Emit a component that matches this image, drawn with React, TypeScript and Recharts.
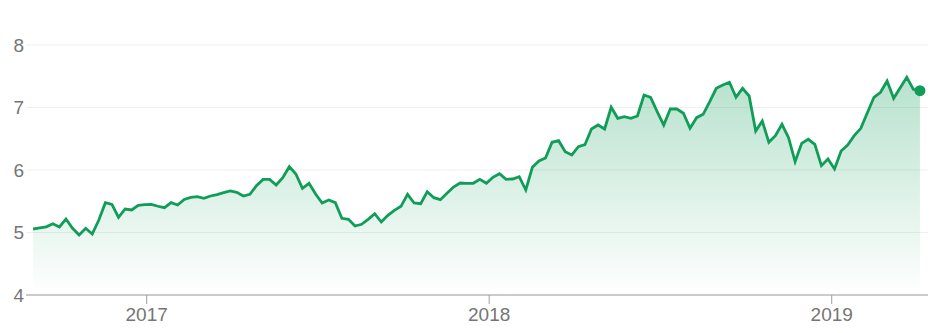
import React from "react";
import { AreaChart, Area, XAxis, YAxis, CartesianGrid, ReferenceDot } from "recharts";

const DAY = 86400000;
const START = Date.UTC(2016, 8, 2); // first weekly close
const values: number[] = [
  5.056, 5.075, 5.09, 5.14, 5.088, 5.216, 5.067, 4.96, 5.067, 4.976,
  5.2, 5.477, 5.45, 5.243, 5.376, 5.36, 5.435, 5.445, 5.45, 5.42,
  5.397, 5.477, 5.44, 5.53, 5.563, 5.573, 5.547, 5.584, 5.605, 5.637,
  5.664, 5.643, 5.584, 5.611, 5.749, 5.85, 5.85, 5.76, 5.877, 6.053,
  5.936, 5.707, 5.787, 5.616, 5.472, 5.52, 5.477, 5.227, 5.21, 5.104,
  5.131, 5.21, 5.3, 5.168, 5.275, 5.355, 5.419, 5.611, 5.472, 5.461,
  5.653, 5.557, 5.525, 5.627, 5.728, 5.792, 5.787, 5.787, 5.851, 5.787,
  5.883, 5.941, 5.851, 5.856, 5.893, 5.68, 6.043, 6.144, 6.192, 6.443,
  6.469, 6.293, 6.24, 6.373, 6.405, 6.656, 6.72, 6.656, 7.003, 6.827,
  6.853, 6.827, 6.864, 7.2, 7.163, 6.933, 6.72, 6.976, 6.976, 6.907,
  6.667, 6.837, 6.891, 7.093, 7.307, 7.36, 7.403, 7.163, 7.307, 7.184,
  6.624, 6.784, 6.443, 6.549, 6.731, 6.517, 6.133, 6.427, 6.491, 6.411,
  6.069, 6.176, 6.016, 6.304, 6.4, 6.549, 6.667, 6.917, 7.163, 7.243,
  7.424, 7.147, 7.317, 7.483, 7.291, 7.269,
];
const dates: number[] = values.map((_, i) => START + i * 7 * DAY);
const yTicks: number[] = [4, 5, 6, 7, 8];
const xTicks: number[] = [Date.UTC(2017, 0, 1), Date.UTC(2018, 0, 1), Date.UTC(2019, 0, 1)];
const xTickLabels: string[] = ["2017", "2018", "2019"];

const data = values.map((v, i) => ({ t: dates[i], v }));
const last = data[data.length - 1];

const GREEN = "#0f9d58";
const FONT = "Arial, 'Liberation Sans', sans-serif";
const xDomain: [number, number] = [
  Date.UTC(2017, 0, 1) - 128.6 * DAY,
  Date.UTC(2019, 0, 1) + 102.6 * DAY,
];

export default function App() {
  return (
    <div style={{ position: "absolute", left: 0, top: 0 }}>
      <AreaChart
        width={939}
        height={333}
        data={data}
        margin={{ top: 45, right: 11, bottom: 0, left: 0 }}
      >
        <defs>
          <linearGradient id="fillGrad" x1="0" y1="0" x2="0" y2="1">
            <stop offset="0%" stopColor={GREEN} stopOpacity={0.3} />
            <stop offset="100%" stopColor={GREEN} stopOpacity={0} />
          </linearGradient>
        </defs>
        <CartesianGrid vertical={false} stroke="#efefef" strokeWidth={1} />
        <XAxis
          type="number"
          dataKey="t"
          domain={xDomain}
          ticks={xTicks}
          tickFormatter={(t: number) => xTickLabels[xTicks.indexOf(t)] ?? ""}
          height={38}
          stroke="#9e9e9e"
          tickSize={9}
          tickMargin={4}
          tick={{ fill: "#757575", fontSize: 19, fontFamily: FONT }}
          allowDataOverflow
        />
        <YAxis
          domain={[4, 8]}
          ticks={yTicks}
          width={26}
          axisLine={false}
          tickLine={false}
          tickSize={0}
          tickMargin={2}
          tick={{ fill: "#757575", fontSize: 19, fontFamily: FONT }}
        />
        <Area
          type="linear"
          dataKey="v"
          stroke={GREEN}
          strokeWidth={2.8}
          fill="url(#fillGrad)"
          fillOpacity={1}
          dot={false}
          activeDot={false}
          isAnimationActive={false}
        />
        <ReferenceDot x={last.t} y={last.v} r={5.5} fill={GREEN} stroke="none" />
      </AreaChart>
    </div>
  );
}
